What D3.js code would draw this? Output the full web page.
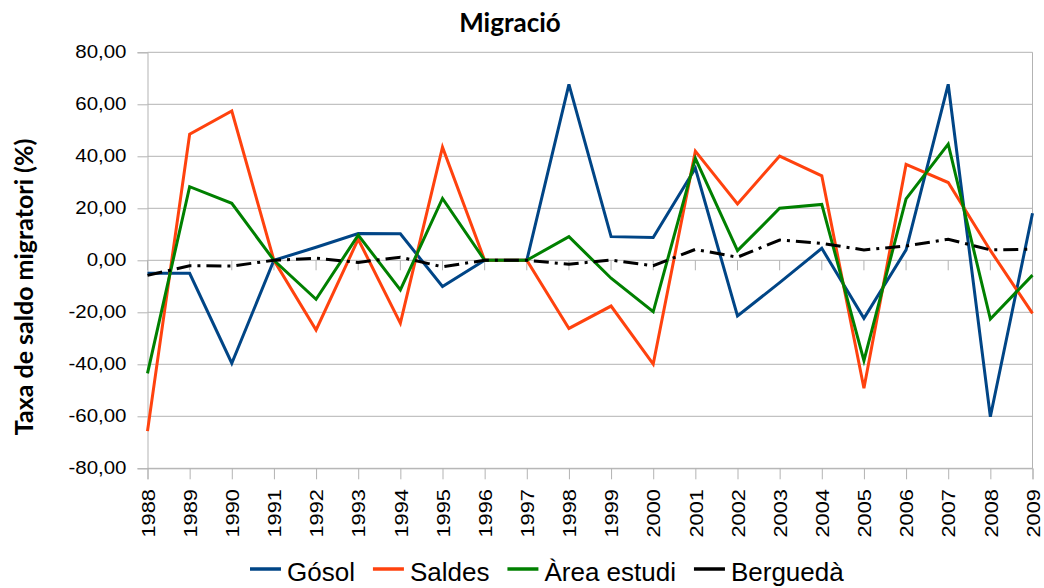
<!DOCTYPE html>
<html><head><meta charset="utf-8">
<script src="https://cdn.jsdelivr.net/npm/d3@7"></script>
<style>body{margin:0;background:#fff}svg{display:block}</style>
</head><body>
<svg id="c" width="1044" height="588"></svg>
<script>
const years = ["1988","1989","1990","1991","1992","1993","1994","1995","1996","1997","1998","1999","2000","2001","2002","2003","2004","2005","2006","2007","2008","2009"];
const gosol   = [-5.0,-5.0,-39.6,0,5.0,10.3,10.2,-10.1,0,0,67.7,9.1,8.8,35.4,-21.4,-8.6,4.6,-22.3,4.0,67.7,-60.2,18.1];
const saldes  = [-65.7,48.5,57.4,0,-26.8,8.1,-24.2,43.5,0,0,-26.2,-17.6,-39.9,42.0,21.7,40.1,32.5,-49.2,36.9,29.9,3.8,-20.4];
const area    = [-43.5,28.3,21.9,0,-15.0,9.7,-11.4,23.8,0,0,9.1,-6.9,-19.8,39.2,3.7,20.0,21.5,-38.6,23.6,44.7,-22.6,-5.7];
const bergueda= [-5.8,-2.1,-2.2,0,0.8,-0.8,1.2,-2.5,0,0,-1.5,0.1,-2.1,4.2,1.2,7.8,6.5,4.0,5.5,8.1,4.0,4.3];
const yTicks  = [-80,-60,-40,-20,0,20,40,60,80];
const seriesNames = ["Gósol","Saldes","Àrea estudi","Berguedà"];
const seriesColors = ["#004586","#ff420e","#008000","#000000"];
const seriesData = [gosol, saldes, area, bergueda];

const svg = d3.select("#c");
const L = 147.5, R = 1032.5, T = 52.3, B = 468.3;
const x = d3.scalePoint().domain(years).range([L, R]);
const y = d3.scaleLinear().domain([-80, 80]).range([B, T]);
const loc = d3.formatLocale({decimal: ",", thousands: ".", grouping: [3], currency: ["", "€"], minus: "-"});
const fmt = loc.format(".2f");

// gridlines
svg.append("g").selectAll("line").data(yTicks).join("line")
  .attr("x1", L).attr("x2", R).attr("y1", d => y(d)).attr("y2", d => y(d))
  .attr("stroke", "#b3b3b3").attr("stroke-width", 1);
// right border
svg.append("line").attr("x1", R).attr("x2", R).attr("y1", T).attr("y2", B).attr("stroke", "#b3b3b3");

// y axis
const ya = svg.append("g").attr("transform", `translate(${L},0)`)
  .call(d3.axisLeft(y).tickValues(yTicks).tickFormat(fmt).tickSize(10).tickPadding(10));
ya.select(".domain").attr("stroke", "#b3b3b3");
ya.selectAll(".tick line").attr("stroke", "#b3b3b3");
ya.selectAll("text").attr("font-family", "Liberation Sans, Arial, sans-serif").attr("font-size", 17.5).attr("fill", "#000")
  .attr("x", 0).attr("transform", "translate(-21,0) scale(1.17,1)");

// x axis at bottom (labels)
const xa = svg.append("g").attr("transform", `translate(0,${B})`)
  .call(d3.axisBottom(x).tickSize(11));
xa.select(".domain").attr("stroke", "#b3b3b3");
xa.selectAll(".tick line").attr("stroke", "#b3b3b3");
xa.selectAll("text").attr("font-family", "Liberation Sans, Arial, sans-serif").attr("font-size", 19).attr("fill", "#000")
  .attr("transform", "rotate(-90) scale(1.15,1)").attr("text-anchor", "end").attr("x", -18).attr("y", 0).attr("dy", "0.35em");
// ticks on the zero line
svg.append("g").selectAll("line").data(years).join("line")
  .attr("x1", d => x(d)).attr("x2", d => x(d)).attr("y1", y(0)).attr("y2", y(0) + 10)
  .attr("stroke", "#b3b3b3");

// lines
const line = d3.line().x((d, i) => x(years[i])).y(d => y(d));
seriesData.forEach((s, k) => {
  svg.append("path").datum(s).attr("d", line).attr("fill", "none")
    .attr("stroke", seriesColors[k]).attr("stroke-width", 3).attr("stroke-linejoin", "miter")
    .attr("stroke-dasharray", k === 3 ? "15,6,3,6" : null);
});

// title
svg.append("text").attr("x", 510).attr("y", 32).attr("text-anchor", "middle")
  .attr("font-family", "Lato, Carlito, sans-serif").attr("font-weight", "bold").attr("font-size", 26).text("Migració");
// y title
svg.append("text").attr("transform", `translate(33,287) rotate(-90)`).attr("text-anchor", "middle")
  .attr("font-family", "Lato, Carlito, sans-serif").attr("font-weight", "bold").attr("font-size", 25).text("Taxa de saldo migratori (%)");

// legend
const lg = svg.append("g");
let cx = 250;
seriesNames.forEach((n, k) => {
  lg.append("line").attr("x1", cx).attr("x2", cx + 31).attr("y1", 569).attr("y2", 569)
    .attr("stroke", seriesColors[k]).attr("stroke-width", 3.5);
  const t = lg.append("text").attr("x", cx + 37).attr("y", 581).attr("font-family", "Liberation Sans, Arial, sans-serif")
    .attr("font-size", 26).text(n);
  cx += 37 + t.node().getComputedTextLength() + 18;
});
</script>
</body></html>
